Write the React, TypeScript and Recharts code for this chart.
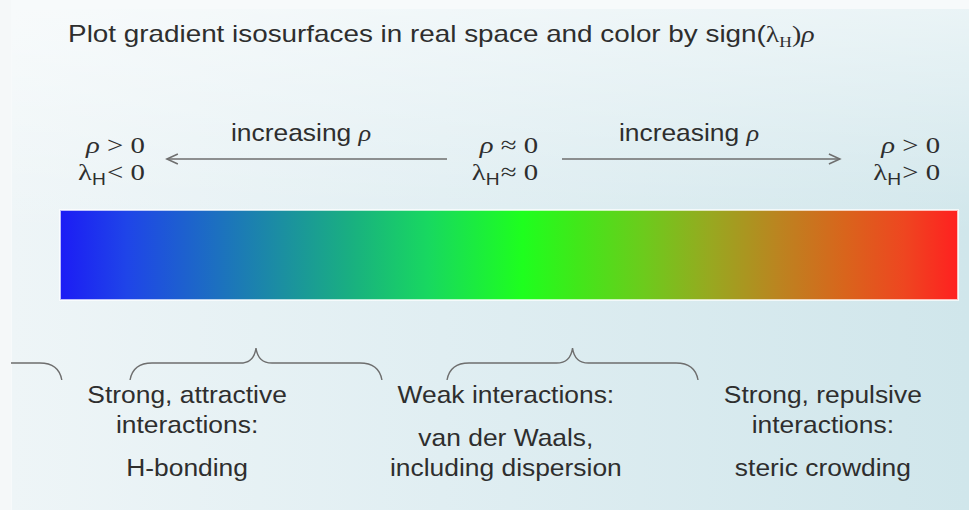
import { ComposedChart, XAxis, YAxis, ReferenceArea, ReferenceLine, ReferenceDot } from "recharts";

// x axis is sign(λH)ρ, the colour bar runs from -1 to 1
const stopValues = [-1, -0.85, -0.65, -0.5, -0.35, -0.18, 0.03, 0.15, 0.3, 0.45, 0.6, 0.75, 0.88, 1];
const stopColours = [
  "#1c1cf5",
  "#1f45e8",
  "#1c70c0",
  "#1b90a0",
  "#19b080",
  "#18d860",
  "#1eff1e",
  "#40e81a",
  "#6ccb1c",
  "#98a820",
  "#bb8420",
  "#d9641c",
  "#ee4620",
  "#ff2020",
];

// where the rho / lambda labels end on the scale
const endpointValues = [-0.811, 0.065, 0.96];
const endpointRho = ["> 0", "≈ 0", "> 0"];
const endpointLambda = ["< 0", "≈ 0", "> 0"];

// "increasing rho" arrows, pointing away from zero
const arrowFrom = [-0.138, 0.118];
const arrowTo = [-0.762, 0.737];
const arrowLabelAt = [-0.463, 0.401];

// braces under the bar
const braceFrom = [-1.421, -0.844, -0.138];
const braceTo = [-0.996, -0.283, 0.421];

// interaction regions
const regionAt = [-0.717, -0.007, 0.699];
const regionTitle = [["Strong, attractive", "interactions:"], ["Weak interactions:"], ["Strong, repulsive", "interactions:"]];
const regionExample = [["H-bonding"], ["van der Waals,", "including dispersion"], ["steric crowding"]];

const titleAt = -0.982;

const SANS = "'Liberation Sans', Arial, sans-serif";
const SERIF = "'Liberation Serif', 'Times New Roman', serif";
const INK = "#2e2e2e";
const LINE = "#6e6e6e";

const Txt = ({ x, y, anchor = "middle", size = 24, sx = 1.1, family = SANS, children }: any) => (
  <g transform={`translate(${x},${y}) scale(${sx},1)`}>
    <text x={0} y={0} textAnchor={anchor} fontSize={size} fontFamily={family} fill={INK}>
      {children}
    </text>
  </g>
);

const ArrowShape = (p: any) => {
  const { x1, y1, x2, y2 } = p;
  const dir = Math.sign(x2 - x1);
  return (
    <g stroke={LINE} strokeWidth={1.5} fill="none">
      <line x1={x1} y1={y1} x2={x2} y2={y2} />
      <path d={`M${x2 - dir * 11},${y2 - 5} L${x2},${y2} L${x2 - dir * 11},${y2 + 5}`} />
    </g>
  );
};

const BraceShape = (p: any) => {
  const { x, y, width, height } = p;
  const xl = x;
  const xr = x + width;
  const xc = x + width / 2;
  const top = y;
  const bot = y + height;
  const mid = y + height * 0.47;
  const d = [
    `M${xl},${bot}`,
    `Q${xl + 3},${mid} ${xl + 22},${mid}`,
    `L${xc - 16},${mid}`,
    `Q${xc - 2},${mid} ${xc},${top}`,
    `Q${xc + 2},${mid} ${xc + 16},${mid}`,
    `L${xr - 22},${mid}`,
    `Q${xr - 3},${mid} ${xr},${bot}`,
  ].join(" ");
  return <path d={d} stroke={LINE} strokeWidth={1.4} fill="none" />;
};

const chartData = stopValues.map((v) => ({ v }));

export default function App() {
  return (
    <div
      style={{
        position: "absolute",
        left: 0,
        top: 0,
        width: 969,
        height: 510,
        background: "#f7fafb",
      }}
    >
      <div
        style={{
          position: "absolute",
          left: 12,
          top: 9,
          right: 0,
          bottom: 0,
          background:
            "linear-gradient(180deg, rgba(255,255,255,0.55) 0%, rgba(255,255,255,0) 45%), linear-gradient(90deg, #eef5f7 0%, #e0eef2 45%, #d0e6eb 100%)",
        }}
      />
      <div style={{ position: "absolute", left: 0, top: 0 }}>
        <ComposedChart width={969} height={510} data={chartData} margin={{ top: 0, right: 11, bottom: 0, left: 60 }}>
          <defs>
            <linearGradient id="signRho" x1="0" y1="0" x2="1" y2="0">
              {stopValues.map((v, i) => (
                <stop key={v} offset={(v + 1) / 2} stopColor={stopColours[i]} />
              ))}
            </linearGradient>
          </defs>
          <XAxis type="number" dataKey="v" domain={[-1, 1]} hide allowDataOverflow />
          <YAxis type="number" domain={[0, 510]} reversed hide allowDataOverflow />

          <ReferenceArea
            x1={-1}
            x2={1}
            y1={210}
            y2={300}
            fill="url(#signRho)"
            fillOpacity={1}
            stroke="#ffffff"
            strokeOpacity={0.7}
            strokeWidth={2}
            isAnimationActive={false}
          />

          <ReferenceDot
            x={titleAt}
            y={42}
            shape={(p: any) => (
              <Txt x={p.cx} y={p.cy} anchor="start" sx={1.16}>
                Plot gradient isosurfaces in real space and color by sign(
                <tspan fontFamily={SERIF}>λ</tspan>
                <tspan fontFamily={SERIF} fontSize={15} dy={5}>H</tspan>
                <tspan fontFamily={SERIF} dy={-5}>)</tspan>
                <tspan fontFamily={SERIF} fontStyle="italic">ρ</tspan>
              </Txt>
            )}
          />

          {arrowFrom.map((from, i) => (
            <ReferenceLine
              key={`arrow-${i}`}
              segment={[
                { x: from, y: 159 },
                { x: arrowTo[i], y: 159 },
              ]}
              shape={ArrowShape}
            />
          ))}
          {arrowLabelAt.map((v, i) => (
            <ReferenceDot
              key={`inc-${i}`}
              x={v}
              y={141}
              shape={(p: any) => (
                <Txt x={p.cx} y={p.cy}>
                  increasing <tspan fontFamily={SERIF} fontStyle="italic">ρ</tspan>
                </Txt>
              )}
            />
          ))}

          {endpointValues.map((v, i) => (
            <ReferenceDot
              key={`rho-${i}`}
              x={v}
              y={153}
              shape={(p: any) => (
                <Txt x={p.cx} y={p.cy} anchor="end" family={SERIF} sx={1.2}>
                  <tspan fontStyle="italic">ρ</tspan>
                  {" " + endpointRho[i]}
                </Txt>
              )}
            />
          ))}
          {endpointValues.map((v, i) => (
            <ReferenceDot
              key={`lam-${i}`}
              x={v}
              y={180}
              shape={(p: any) => (
                <Txt x={p.cx} y={p.cy} anchor="end" family={SERIF} sx={1.2}>
                  λ
                  <tspan fontFamily={SANS} fontSize={16} dy={5}>H</tspan>
                  <tspan dy={-5} dx={1}>{endpointLambda[i]}</tspan>
                </Txt>
              )}
            />
          ))}

          {braceFrom.map((from, i) => (
            <ReferenceArea
              key={`brace-${i}`}
              x1={from}
              x2={braceTo[i]}
              y1={348}
              y2={380}
              ifOverflow="visible"
              shape={BraceShape}
            />
          ))}

          {regionAt.map((v, i) =>
            regionTitle[i].map((line, j) => (
              <ReferenceDot
                key={`rt-${i}-${j}`}
                x={v}
                y={403 + j * 30}
                shape={(p: any) => (
                  <Txt x={p.cx} y={p.cy}>
                    {line}
                  </Txt>
                )}
              />
            ))
          )}
          {regionAt.map((v, i) =>
            regionExample[i].map((line, j) => (
              <ReferenceDot
                key={`re-${i}-${j}`}
                x={v}
                y={476 - (regionExample[i].length - 1 - j) * 30}
                shape={(p: any) => (
                  <Txt x={p.cx} y={p.cy}>
                    {line}
                  </Txt>
                )}
              />
            ))
          )}
        </ComposedChart>
      </div>
      {/* pale slide edge on the left, over the cut brace */}
      <div style={{ position: "absolute", left: 0, top: 0, width: 11, height: 510, background: "#f5f8f9" }} />
    </div>
  );
}
